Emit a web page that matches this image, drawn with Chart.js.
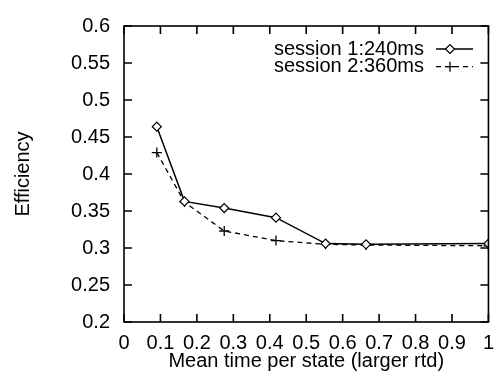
<!DOCTYPE html>
<html>
<head>
<meta charset="utf-8">
<script src="https://cdn.jsdelivr.net/npm/chart.js@4/dist/chart.umd.min.js"></script>
<style>
  html, body { margin: 0; padding: 0; background: #fff; }
  #wrap { width: 503px; height: 376px; }
</style>
</head>
<body>
<div id="wrap"><canvas id="effChart" width="503" height="376"></canvas></div>
<script>
// x positions (mean time per state) and efficiency per session
var meanTimes = [0.09, 0.166, 0.275, 0.417, 0.553, 0.664, 1.0];
var session1 = [0.464, 0.363, 0.354, 0.341, 0.306, 0.305, 0.306];
var session2 = [0.429, 0.362, 0.323, 0.310, 0.305, 0.304, 0.303];
var seriesNames = ['session 1:240ms', 'session 2:360ms'];
var xTicks = [0, 0.1, 0.2, 0.3, 0.4, 0.5, 0.6, 0.7, 0.8, 0.9, 1];
var yTicks = [0.2, 0.25, 0.3, 0.35, 0.4, 0.45, 0.5, 0.55, 0.6];

var FONT = '"Liberation Sans", Arial, sans-serif';

function toPoints(xs, ys) {
  return xs.map(function(x, i) { return { x: x, y: ys[i] }; });
}

// frame, inward ticks on all four sides, and the legend inside the plot
var framePlugin = {
  id: 'frame',
  afterDraw: function(chart) {
    var ctx = chart.ctx, a = chart.chartArea;
    var xs = chart.scales.x, ys = chart.scales.y;
    var len = 8;
    ctx.save();
    ctx.strokeStyle = '#000';
    ctx.lineWidth = 1.6;
    ctx.strokeRect(a.left, a.top, a.right - a.left, a.bottom - a.top);
    ctx.beginPath();
    xTicks.forEach(function(v) {
      var px = xs.getPixelForValue(v);
      ctx.moveTo(px, a.bottom); ctx.lineTo(px, a.bottom - len);
      ctx.moveTo(px, a.top); ctx.lineTo(px, a.top + len);
    });
    yTicks.forEach(function(v) {
      var py = ys.getPixelForValue(v);
      ctx.moveTo(a.left, py); ctx.lineTo(a.left + len, py);
      ctx.moveTo(a.right, py); ctx.lineTo(a.right - len, py);
    });
    ctx.stroke();

    // legend
    ctx.font = '20px ' + FONT;
    ctx.fillStyle = '#000';
    ctx.textAlign = 'right';
    ctx.textBaseline = 'middle';
    chart.data.datasets.forEach(function(ds, i) {
      var y = 49 + i * 17.7;
      ctx.fillStyle = '#000';
      ctx.fillText(ds.label, 424, y);
      ctx.beginPath();
      ctx.lineWidth = ds.borderWidth;
      ctx.setLineDash(ds.borderDash || []);
      ctx.moveTo(436, y); ctx.lineTo(473, y);
      ctx.stroke();
      ctx.setLineDash([]);
      ctx.fillStyle = ds.pointBackgroundColor;
      ctx.lineWidth = ds.pointBorderWidth;
      Chart.helpers.drawPoint(ctx, {
        pointStyle: ds.pointStyle, radius: ds.pointRadius,
        borderWidth: ds.pointBorderWidth
      }, 450, y);
    });
    ctx.restore();
  }
};

new Chart(document.getElementById('effChart'), {
  type: 'line',
  data: {
    datasets: [
      {
        label: seriesNames[0],
        data: toPoints(meanTimes, session1),
        borderColor: '#000',
        borderWidth: 1.5,
        pointStyle: 'rectRot',
        pointRadius: 4.5,
        pointBorderWidth: 1.2,
        pointBorderColor: '#000',
        pointBackgroundColor: '#fff',
        order: 0
      },
      {
        label: seriesNames[1],
        data: toPoints(meanTimes, session2),
        borderColor: '#000',
        borderWidth: 1.3,
        borderDash: [5, 4],
        pointStyle: 'cross',
        pointRadius: 5,
        pointBorderWidth: 1.3,
        pointBorderColor: '#000',
        pointBackgroundColor: '#000',
        order: 1
      }
    ]
  },
  options: {
    responsive: false,
    animation: false,
    layout: { padding: { top: 17, right: 6, left: 0, bottom: 0 } },
    plugins: { legend: { display: false }, tooltip: { enabled: false } },
    scales: {
      x: {
        type: 'linear',
        min: 0, max: 1,
        afterBuildTicks: function(s) { s.ticks = xTicks.map(function(v) { return { value: v }; }); },
        afterFit: function(s) { s.height = 54; },
        grid: { display: false, drawTicks: false },
        border: { display: false },
        ticks: {
          color: '#000', padding: 9, maxRotation: 0, autoSkip: false,
          font: { family: FONT, size: 20 },
          callback: function(v) { return String(Number(v.toFixed(2))); }
        },
        title: {
          display: true, text: 'Mean time per state (larger rtd)', color: '#000',
          font: { family: FONT, size: 20 }, padding: { top: 0, bottom: 3 }
        }
      },
      y: {
        min: 0.2, max: 0.6,
        afterBuildTicks: function(s) { s.ticks = yTicks.map(function(v) { return { value: v }; }); },
        afterFit: function(s) { s.width = 124; },
        grid: { display: false, drawTicks: false },
        border: { display: false },
        ticks: {
          color: '#000', padding: 14, autoSkip: false,
          font: { family: FONT, size: 20 },
          callback: function(v) { return String(Number(v.toFixed(2))); }
        },
        title: {
          display: true, text: 'Efficiency', color: '#000',
          font: { family: FONT, size: 20 }, padding: { top: 11, bottom: 0 }
        }
      }
    }
  },
  plugins: [framePlugin]
});
</script>
</body>
</html>
